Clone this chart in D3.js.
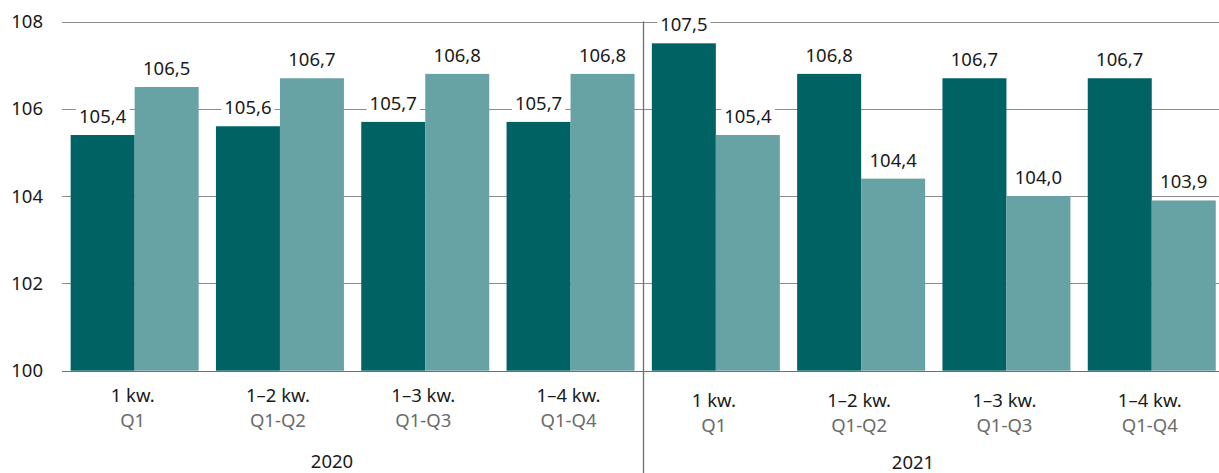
<!DOCTYPE html>
<html><head><meta charset="utf-8">
<script src="https://cdn.jsdelivr.net/npm/d3@7"></script>
<style>html,body{margin:0;padding:0;background:#fff;}svg{display:block;font-family:"Noto Sans",sans-serif;}</style>
</head><body>
<svg id="c" width="1219" height="473"></svg>
<script>
const years = ["2020", "2021"];
const periodsPl = ["1 kw.", "1–2 kw.", "1–3 kw.", "1–4 kw."];
const periodsEn = ["Q1", "Q1-Q2", "Q1-Q3", "Q1-Q4"];
const seriesA = [105.4, 105.6, 105.7, 105.7, 107.5, 106.8, 106.7, 106.7];
const seriesB = [106.5, 106.7, 106.8, 106.8, 105.4, 104.4, 104.0, 103.9];
const yTicks = [100, 102, 104, 106, 108];

const cats = [];
years.forEach((y, yi) => periodsPl.forEach((p, pi) => cats.push({id: y + "-" + pi, year: y, yi, pl: p, en: periodsEn[pi]})));
const data = cats.map((c, i) => ({...c, a: seriesA[i], b: seriesB[i]}));

const svg = d3.select("#c");
const x0 = d3.scaleBand().domain(cats.map(c => c.id)).range([62, 1224.4]).paddingInner(0.119).paddingOuter(0.0595);
const x1 = d3.scaleBand().domain(["a", "b"]).range([0, x0.bandwidth()]);
const y = d3.scaleLinear().domain([100, 108]).range([370.7, 21.5]);
const colors = {a: "#016264", b: "#67a2a5"};
const fs = 18.5;

// grid
svg.append("g").selectAll("line").data(yTicks).join("line")
  .attr("x1", 62).attr("x2", 1219)
  .attr("y1", d => Math.round(y(d)) + 0.5).attr("y2", d => Math.round(y(d)) + 0.5)
  .attr("stroke", d => d === 100 ? "#6f6f6f" : "#8c8c8c").attr("stroke-width", 1);

svg.append("g").selectAll("text").data(yTicks).join("text")
  .attr("x", 43).attr("y", d => y(d) + 6.5).attr("text-anchor", "end")
  .attr("font-size", fs).attr("fill", "#1a1a1a").text(d => d);

// divider
const divX = x0(cats[3].id) + x0.bandwidth() + (x0.step() - x0.bandwidth()) / 2;
svg.append("line").attr("x1", Math.round(divX) + 0.5).attr("x2", Math.round(divX) + 0.5)
  .attr("y1", y(108)).attr("y2", 473).attr("stroke", "#6f6f6f").attr("stroke-width", 1.3);

// bars
const g = svg.append("g").selectAll("g").data(data).join("g")
  .attr("transform", d => `translate(${x0(d.id)},0)`);
g.selectAll("rect").data(d => ["a", "b"].map(k => ({k, v: d[k]}))).join("rect")
  .attr("x", d => x1(d.k)).attr("width", x1.bandwidth())
  .attr("y", d => y(d.v)).attr("height", d => y(100) - y(d.v))
  .attr("fill", d => colors[d.k]);

// value labels with white boxes
const fmt = v => v.toFixed(1).replace(".", ",");
g.selectAll("g.lab").data(d => ["a", "b"].map(k => ({k, v: d[k]}))).join("g").attr("class", "lab")
  .each(function(d) {
    const gg = d3.select(this);
    const cx = x1(d.k) + x1.bandwidth() / 2;
    const by = y(d.v) - 12;
    const t = gg.append("text").attr("x", cx).attr("y", by).attr("text-anchor", "middle")
      .attr("font-size", fs).attr("fill", "#1a1a1a").text(fmt(d.v));
    const bb = t.node().getBBox();
    gg.insert("rect", "text").attr("x", bb.x - 3).attr("y", bb.y + 1).attr("width", bb.width + 6).attr("height", bb.height - 2).attr("fill", "#fff");
  });

// category labels
const off = [0, 5];
svg.append("g").selectAll("text").data(data).join("text")
  .attr("x", d => x0(d.id) + x0.bandwidth() / 2 - 2).attr("y", d => 402 + off[d.yi])
  .attr("text-anchor", "middle").attr("font-size", fs).attr("fill", "#1a1a1a").text(d => d.pl);
svg.append("g").selectAll("text").data(data).join("text")
  .attr("x", d => x0(d.id) + x0.bandwidth() / 2 - 2).attr("y", d => 426.5 + off[d.yi])
  .attr("text-anchor", "middle").attr("font-size", fs).attr("fill", "#6b6b6b").text(d => d.en);

// year labels
const yearX = [332, 913];
svg.append("g").selectAll("text").data(years).join("text")
  .attr("x", (d, i) => yearX[i]).attr("y", (d, i) => [468, 469][i])
  .attr("text-anchor", "middle").attr("font-size", fs).attr("fill", "#1a1a1a").text(d => d);
</script>
</body></html>
